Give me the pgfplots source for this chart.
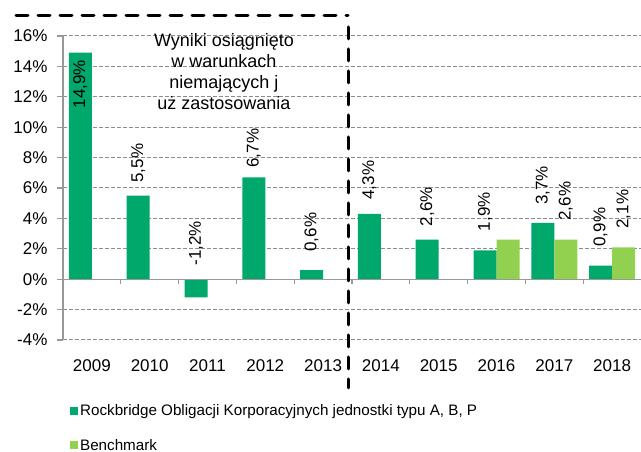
\documentclass[border=0pt]{standalone}
\usepackage{fontspec}
\setmainfont{Liberation Sans}
\usepackage{pgfplots}
\pgfplotsset{compat=1.18}
\definecolor{dgreen}{HTML}{00A86B}
\definecolor{lgreen}{HTML}{92D050}
\definecolor{gridgray}{HTML}{8C8C8C}
\definecolor{axgray}{HTML}{989898}
\newcommand\ff{\fontsize{17pt}{20pt}\selectfont}
\begin{document}
\begin{tikzpicture}
\useasboundingbox (0pt,0pt) rectangle (641pt,452pt);
\begin{axis}[
  at={(63pt,112pt)}, anchor=south west,
  scale only axis, width=578pt, height=304pt,
  xmin=-0.5, xmax=9.5, ymin=-4, ymax=16,
  clip=false,
  /pgf/number format/assume math mode=true,
  axis x line*=bottom, x axis line style={draw=none},
  xtick={0,...,9},
  xticklabels={2009,2010,2011,2012,2013,2014,2015,2016,2017,2018},
  xtick style={draw=none},
  xticklabel style={font=\ff, yshift=-10pt},
  axis y line*=left, y axis line style={axgray, line width=1.3pt},
  ytick={-4,-2,...,16},
  yticklabel={\pgfmathprintnumber{\tick}\%},
  yticklabel style={font=\ff, xshift=-6pt},
  tick align=outside, major tick length=6pt,
  ytick style={axgray, line width=1.3pt},
  ymajorgrids, grid style={gridgray, line width=1pt, dash pattern=on 4pt off 2pt},
  legend image code/.code={\fill[#1] (0pt,-4pt) rectangle (8pt,4pt);},
  legend style={at={(0.012,-0.205)}, anchor=north west, draw=none, fill=none,
    inner sep=0pt, font=\fontsize{15.2pt}{18pt}\selectfont, row sep=18pt,
    cells={anchor=west}},
  legend cell align=left,
]
\addplot[ybar, bar width=23pt, bar shift=-11.5pt, fill=dgreen, draw=none]
  coordinates {(0,14.9) (1,5.5) (2,-1.2) (3,6.7) (4,0.6) (5,4.3) (6,2.6) (7,1.9) (8,3.7) (9,0.9)};
\addlegendentry{Rockbridge Obligacji Korporacyjnych jednostki typu A, B, P}
\addplot[ybar, bar width=23pt, bar shift=11.5pt, fill=lgreen, draw=none]
  coordinates {(7,2.6) (8,2.6) (9,2.1)};
\addlegendentry{Benchmark}
\addplot[draw=none, mark=none, forget plot, point meta=explicit,
  nodes near coords={\pgfmathprintnumber[fixed,fixed zerofill,precision=1,use comma]{\pgfplotspointmeta}\%},
  nodes near coords style={rotate=90, anchor=center, font=\ff, inner sep=0pt}]
  table[meta=v] {
x y v
-0.199 12.83 14.9
0.801 7.63 5.5
1.801 2.37 -1.2
2.801 8.62 6.7
3.801 3.09 0.6
4.801 6.51 4.3
5.801 4.77 2.6
6.801 4.44 1.9
7.801 6.18 3.7
8.199 5.13 2.6
8.801 3.42 0.9
9.199 4.61 2.1
};
\draw[axgray, line width=1.3pt] (axis cs:-0.5,0) -- (axis cs:9.5,0);
\pgfplotsinvokeforeach{0.5,1.5,2.5,3.5,4.5,5.5,6.5,7.5,8.5}{
  \draw[axgray, line width=1.3pt] (axis cs:#1,0) -- ++(0pt,-5pt);
}
\end{axis}
\draw[black, line width=3pt, dash pattern=on 12pt off 10pt, line cap=round] (16pt,436pt) -- (348pt,436pt);
\draw[black, line width=3pt, dash pattern=on 12pt off 10pt, line cap=round] (348pt,425pt) -- (348pt,64pt);
\node[anchor=north, align=center, inner sep=0pt, font=\fontsize{18pt}{21pt}\selectfont] at (224pt,419pt)
  {Wyniki osiągnięto\\w warunkach\\niemających j\\uż zastosowania};
\end{tikzpicture}
\end{document}
